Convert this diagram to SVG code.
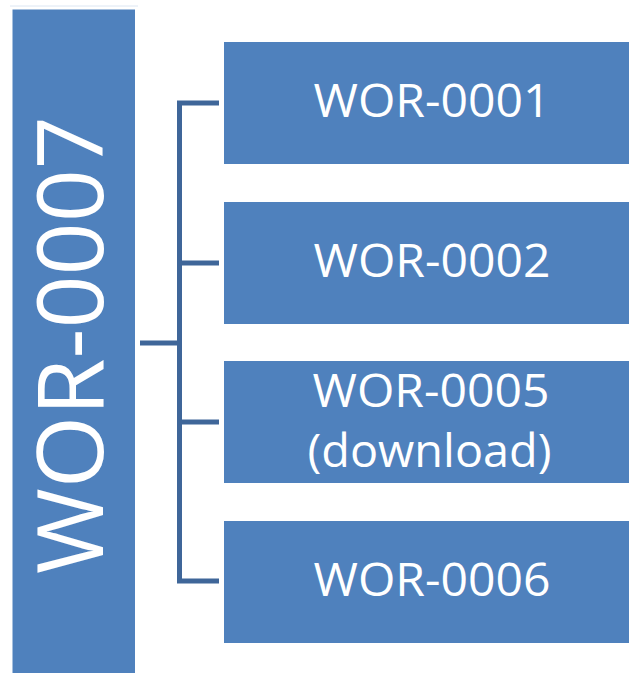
<svg xmlns="http://www.w3.org/2000/svg" width="629" height="673" viewBox="0 0 629 673">
<style>
.box{fill:#4F81BD;}
.lbl{fill:#FFFFFF;font-family:"Open Sans","Liberation Sans",sans-serif;text-anchor:middle;}
.conn{fill:none;stroke:#3F6699;stroke-width:5;}
</style>
<rect width="629" height="673" fill="#FFFFFF"/>
<line x1="10" y1="6" x2="138" y2="6" stroke="#DCE6F2" stroke-width="1"/>
<g id="connectors">
<path class="conn" d="M140,343 H179.5"/>
<path class="conn" d="M219,103 H179.5 V581 H219"/>
<path class="conn" d="M179.5,263 H219"/>
<path class="conn" d="M179.5,422 H219"/>
</g>
<g id="wor-0007">
<rect class="box" x="12.5" y="9.5" width="122.5" height="663.5"/>
<text class="lbl" font-size="92" transform="translate(103,345) rotate(-90)" textLength="458" lengthAdjust="spacingAndGlyphs">WOR-0007</text>
</g>
<g id="wor-0001">
<rect class="box" x="224" y="42" width="405" height="122"/>
<text class="lbl" font-size="46" x="432" y="117" textLength="237" lengthAdjust="spacingAndGlyphs">WOR-0001</text>
</g>
<g id="wor-0002">
<rect class="box" x="224" y="202" width="405" height="122"/>
<text class="lbl" font-size="46" x="432" y="277" textLength="237" lengthAdjust="spacingAndGlyphs">WOR-0002</text>
</g>
<g id="wor-0005">
<rect class="box" x="224" y="361" width="405" height="122"/>
<text class="lbl" font-size="46" x="431" y="407" textLength="237" lengthAdjust="spacingAndGlyphs">WOR-0005</text>
<text class="lbl" font-size="46" x="429.5" y="467" textLength="244" lengthAdjust="spacingAndGlyphs">(download)</text>
</g>
<g id="wor-0006">
<rect class="box" x="224" y="521" width="405" height="122"/>
<text class="lbl" font-size="46" x="432" y="596" textLength="237" lengthAdjust="spacingAndGlyphs">WOR-0006</text>
</g>
</svg>
